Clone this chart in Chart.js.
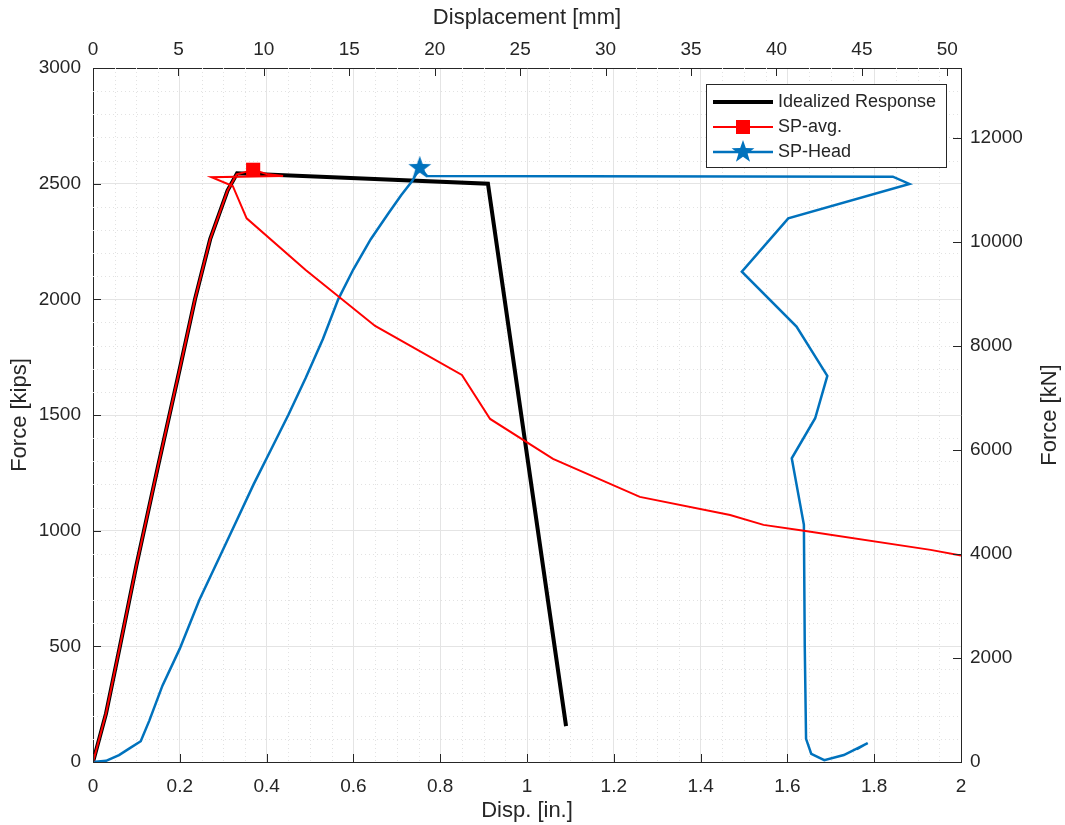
<!DOCTYPE html>
<html>
<head>
<meta charset="utf-8">
<script src="https://cdn.jsdelivr.net/npm/chart.js@4/dist/chart.umd.min.js"></script>
<style>
html, body { margin: 0; padding: 0; background: #fff; }
#wrap { width: 1065px; height: 825px; }
</style>
</head>
<body>
<div id="wrap"><canvas id="chart" width="1065" height="825"></canvas></div>
<script>
// Data (inches / kips)
const idealDisp  = [0, 0.03, 0.062, 0.10, 0.15, 0.20, 0.235, 0.27, 0.31, 0.332, 0.91, 1.09];
const idealForce = [0, 210, 500, 850, 1280, 1700, 2000, 2260, 2470, 2545, 2500, 155];

const avgDisp  = [0, 0.03, 0.062, 0.10, 0.15, 0.20, 0.235, 0.27, 0.31, 0.331, 0.35, 0.369, 0.40, 0.438,
                  0.273, 0.322, 0.354, 0.49, 0.65, 0.85, 0.915, 1.06, 1.26, 1.468, 1.545, 1.638, 1.93, 2.0];
const avgForce = [0, 210, 500, 850, 1280, 1700, 2000, 2260, 2470, 2540, 2550, 2560, 2542, 2533,
                  2528, 2490, 2350, 2127, 1885, 1673, 1483, 1310, 1146, 1068, 1025, 1000, 917, 893];

const headDisp  = [0, 0.03, 0.06, 0.085, 0.11, 0.13, 0.16, 0.20, 0.245, 0.29, 0.33, 0.37, 0.41, 0.45,
                   0.49, 0.53, 0.565, 0.60, 0.64, 0.68, 0.71, 0.735, 0.753, 0.77, 1.843, 1.881,
                   1.602, 1.495, 1.621, 1.692, 1.664, 1.61, 1.638, 1.64, 1.643, 1.655, 1.685, 1.73, 1.785, 1.76];
const headForce = [0, 5, 30, 60, 90, 180, 330, 490, 700, 880, 1040, 1200, 1350, 1500,
                   1660, 1830, 2000, 2130, 2260, 2370, 2450, 2510, 2568, 2533, 2530, 2499,
                   2350, 2120, 1882, 1669, 1486, 1313, 1025, 500, 100, 35, 8, 30, 82, 55];

const avgPeakDisp = [0.369], avgPeakForce = [2560];
const headPeakDisp = [0.753], headPeakForce = [2568];

// Tick labels
const inTicks   = [0, 0.2, 0.4, 0.6, 0.8, 1, 1.2, 1.4, 1.6, 1.8, 2];
const kipsTicks = [0, 500, 1000, 1500, 2000, 2500, 3000];
const mmTicks   = [0, 5, 10, 15, 20, 25, 30, 35, 40, 45, 50];
const kNTicks   = [0, 2000, 4000, 6000, 8000, 10000, 12000];

const IN_TO_MM = 25.4, KIP_TO_KN = 4.44822;
const FONT = 'Liberation Sans, Arial, Helvetica, sans-serif';
const TXT = '#262626';

function pts(xs, ys) { return xs.map((x, i) => ({ x: x, y: ys[i] })); }

function makeStar(size, color) {
    const c = document.createElement('canvas');
    c.width = c.height = size;
    const g = c.getContext('2d');
    const R = size / 2, r = R * 0.4;
    g.beginPath();
    for (let i = 0; i < 10; i++) {
        const a = -Math.PI / 2 + i * Math.PI / 5;
        const rad = i % 2 ? r : R;
        g.lineTo(R + rad * Math.cos(a), R + rad * Math.sin(a));
    }
    g.closePath();
    g.fillStyle = color;
    g.fill();
    return c;
}

const BLUE = '#0072bd', RED = '#ff0000', BLACK = '#000000';
const star = makeStar(24, BLUE);

// minor dotted grid, inward ticks, legend, right title
const gridPlugin = {
    id: 'matlabGrid',
    beforeDatasetsDraw(chart) {
        const { ctx, chartArea: a, scales } = chart;
        ctx.save();
        ctx.strokeStyle = '#e2e2e2';
        ctx.lineWidth = 1;
        ctx.setLineDash([1, 3]);
        for (let v = 0.05; v < 2; v += 0.05) {
            if (Math.abs(v / 0.2 - Math.round(v / 0.2)) < 1e-6) continue;
            const px = Math.round(scales.x.getPixelForValue(v)) + 0.5;
            ctx.beginPath(); ctx.moveTo(px, a.top); ctx.lineTo(px, a.bottom); ctx.stroke();
        }
        for (let v = 100; v < 3000; v += 100) {
            if (v % 500 === 0) continue;
            const py = Math.round(scales.y.getPixelForValue(v)) + 0.5;
            ctx.beginPath(); ctx.moveTo(a.left, py); ctx.lineTo(a.right, py); ctx.stroke();
        }
        ctx.restore();
    },
    afterDraw(chart) {
        const { ctx, chartArea: a, scales } = chart;
        const L = 8;
        ctx.save();
        ctx.strokeStyle = TXT;
        ctx.lineWidth = 1;
        ctx.beginPath();
        inTicks.forEach(v => { const p = Math.round(scales.x.getPixelForValue(v)) + 0.5; ctx.moveTo(p, a.bottom); ctx.lineTo(p, a.bottom - L); });
        mmTicks.forEach(v => { const p = Math.round(scales.x2.getPixelForValue(v)) + 0.5; ctx.moveTo(p, a.top); ctx.lineTo(p, a.top + L); });
        kipsTicks.forEach(v => { const p = Math.round(scales.y.getPixelForValue(v)) + 0.5; ctx.moveTo(a.left, p); ctx.lineTo(a.left + L, p); });
        kNTicks.forEach(v => { const p = Math.round(scales.y2.getPixelForValue(v)) + 0.5; ctx.moveTo(a.right, p); ctx.lineTo(a.right - L, p); });
        ctx.stroke();

        // right axis title, reading bottom to top like the left one
        ctx.save();
        ctx.translate(1050, (a.top + a.bottom) / 2);
        ctx.rotate(-Math.PI / 2);
        ctx.font = '22px ' + FONT;
        ctx.fillStyle = TXT;
        ctx.textAlign = 'center';
        ctx.textBaseline = 'middle';
        ctx.fillText('Force [kN]', 0, 0);
        ctx.restore();

        // legend
        const bx = 706.5, by = 84.5, bw = 240, bh = 83;
        ctx.fillStyle = '#fff';
        ctx.fillRect(bx, by, bw, bh);
        ctx.strokeRect(bx, by, bw, bh);
        const rows = [
            { label: 'Idealized Response', color: BLACK, width: 4, mark: null },
            { label: 'SP-avg.', color: RED, width: 2, mark: 'square' },
            { label: 'SP-Head', color: BLUE, width: 2.5, mark: 'star' }
        ];
        ctx.font = '18px ' + FONT;
        ctx.textBaseline = 'middle';
        rows.forEach((r, i) => {
            const y = 102 + i * 25;
            ctx.strokeStyle = r.color;
            ctx.lineWidth = r.width;
            ctx.beginPath(); ctx.moveTo(713, y); ctx.lineTo(773, y); ctx.stroke();
            if (r.mark === 'square') { ctx.fillStyle = RED; ctx.fillRect(736, y - 7, 14, 14); }
            if (r.mark === 'star') ctx.drawImage(star, 743 - 12, y - 12);
            ctx.fillStyle = TXT;
            ctx.fillText(r.label, 778, y);
        });
        ctx.restore();
    }
};

function fixed(list) { return s => { s.ticks = list.map(v => ({ value: v })); }; }
const plain = v => String(v);

const tickFont = { family: FONT, size: 19 };
const titleFont = { family: FONT, size: 22 };

new Chart(document.getElementById('chart'), {
    type: 'scatter',
    data: {
        datasets: [
            { label: 'SP-avg. peak', data: pts(avgPeakDisp, avgPeakForce), pointStyle: 'rect', pointRadius: 10,
              backgroundColor: RED, borderColor: RED, borderWidth: 0, showLine: false, order: 0 },
            { label: 'SP-Head peak', data: pts(headPeakDisp, headPeakForce), pointStyle: star, pointRadius: 12,
              showLine: false, order: 0 },
            { label: 'SP-avg.', data: pts(avgDisp, avgForce), showLine: true, borderColor: RED, borderWidth: 2,
              pointRadius: 0, order: 1 },
            { label: 'SP-Head', data: pts(headDisp, headForce), showLine: true, borderColor: BLUE, borderWidth: 2.5,
              pointRadius: 0, order: 2 },
            { label: 'Idealized Response', data: pts(idealDisp, idealForce), showLine: true, borderColor: BLACK,
              borderWidth: 4, pointRadius: 0, order: 3 }
        ]
    },
    options: {
        responsive: false,
        animation: false,
        devicePixelRatio: 1,
        layout: { padding: 0 },
        plugins: { legend: { display: false }, tooltip: { enabled: false } },
        scales: {
            x: {
                type: 'linear', position: 'bottom', min: 0, max: 2,
                afterBuildTicks: fixed(inTicks),
                afterFit: s => { s.height = 63; },
                ticks: { font: tickFont, color: TXT, padding: 13, maxRotation: 0, callback: plain },
                grid: { color: '#e4e4e4', drawTicks: false },
                border: { display: true, color: TXT, width: 1 },
                title: { display: true, text: 'Disp. [in.]', font: titleFont, color: TXT, padding: { top: 0, bottom: 1 } }
            },
            x2: {
                type: 'linear', position: 'top', min: 0, max: 2 * IN_TO_MM,
                afterBuildTicks: fixed(mmTicks),
                afterFit: s => { s.height = 68; },
                ticks: { font: tickFont, color: TXT, padding: 7, maxRotation: 0, callback: plain },
                grid: { drawOnChartArea: false, drawTicks: false },
                border: { display: true, color: TXT, width: 1 },
                title: { display: true, text: 'Displacement [mm]', font: titleFont, color: TXT, padding: { top: 5, bottom: 0 } }
            },
            y: {
                type: 'linear', position: 'left', min: 0, max: 3000,
                afterBuildTicks: fixed(kipsTicks),
                afterFit: s => { s.width = 93; },
                ticks: { font: tickFont, color: TXT, padding: 12, callback: plain },
                grid: { color: '#e4e4e4', drawTicks: false },
                border: { display: true, color: TXT, width: 1 },
                title: { display: true, text: 'Force [kips]', font: titleFont, color: TXT, padding: { top: 7, bottom: 0 } }
            },
            y2: {
                type: 'linear', position: 'right', min: 0, max: 3000 * KIP_TO_KN,
                afterBuildTicks: fixed(kNTicks),
                afterFit: s => { s.width = 104; },
                ticks: { font: tickFont, color: TXT, padding: 9, callback: plain },
                grid: { drawOnChartArea: false, drawTicks: false },
                border: { display: true, color: TXT, width: 1 },
                title: { display: false }
            }
        }
    },
    plugins: [gridPlugin]
});
</script>
</body>
</html>
